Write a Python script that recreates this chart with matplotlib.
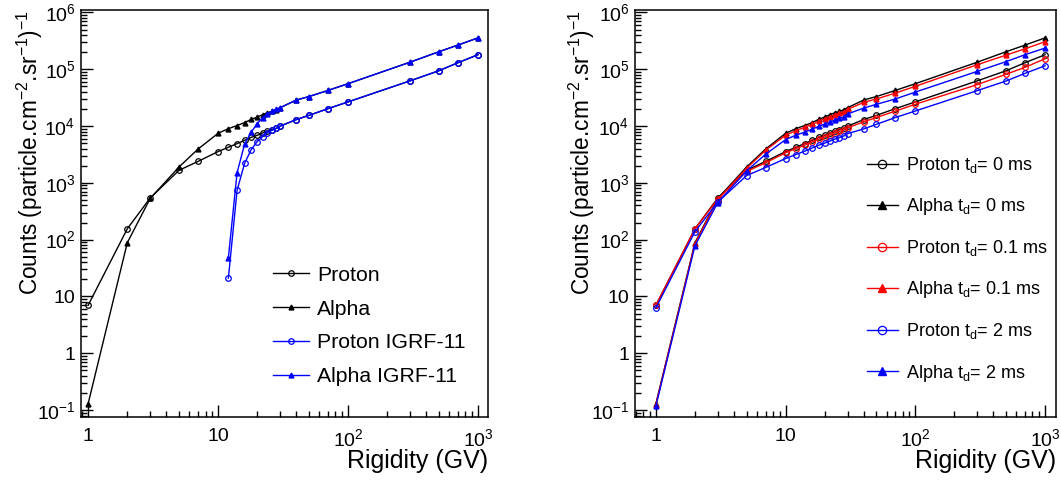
import numpy as np
import matplotlib
matplotlib.use("Agg")
import matplotlib.pyplot as plt
from matplotlib.ticker import LogLocator, FuncFormatter, NullFormatter

plt.rcParams['font.family'] = ['Liberation Sans', 'DejaVu Sans']
plt.rcParams['mathtext.fontset'] = 'custom'
plt.rcParams['mathtext.rm'] = 'Liberation Sans'
plt.rcParams['mathtext.it'] = 'Liberation Sans:italic'
plt.rcParams['mathtext.bf'] = 'Liberation Sans:bold'

# rigidity grid (GV)
rigidity = [1, 2, 3, 5, 7, 10, 12, 14, 16, 18, 20, 22, 24, 26, 28, 30,
            40, 50, 70, 100, 300, 500, 700, 1000]

# td = 0 ms (no magnetic field model)
proton_0 = [7.0, 155, 540, 1660, 2380, 3550, 4230, 4900, 5610, 6330, 6870, 7540,
            8170, 8650, 9120, 9950, 13000, 15400, 20200, 26600, 62400, 94000,
            130000, 180000]
alpha_0 = [0.13, 88, 530, 1900, 3920, 7450, 9000, 10200, 11500, 13100, 14400,
           15850, 17200, 18100, 19400, 21000, 28700, 33000, 42300, 55600, 133000,
           203000, 266000, 356000]

# IGRF-11 (starts at 12 GV)
rigidity_igrf = [12, 14, 16, 18, 20, 22, 24, 26, 28, 30, 40, 50, 70, 100, 300,
                 500, 700, 1000]
proton_igrf = [21, 740, 2210, 3850, 5320, 6510, 7650, 8410, 9120, 9950, 13000,
               15400, 20200, 26600, 62400, 94000, 130000, 180000]
alpha_igrf = [48, 1510, 4800, 7850, 10960, 14050, 16500, 18150, 19700, 21000,
              28700, 33000, 42300, 55600, 133000, 203000, 266000, 356000]

# td = 0.1 ms
proton_01 = [7.0, 155, 520, 1590, 2250, 3380, 4000, 4600, 5250, 5900, 6400, 7000,
             7600, 8050, 8500, 9250, 11900, 14100, 18300, 24200, 53500, 81500,
             108000, 153000]
alpha_01 = [0.125, 85, 508, 1800, 3740, 6900, 8300, 9500, 10700, 12100, 13300,
            14600, 15800, 16800, 17900, 19600, 26100, 29900, 38000, 50000, 120000,
            177000, 229000, 305000]

# td = 2 ms
proton_2 = [6.3, 138, 460, 1340, 1860, 2680, 3150, 3600, 4100, 4600, 5000, 5450,
            5900, 6250, 6650, 7350, 8900, 10700, 14100, 18400, 42000, 62000,
            84500, 115000]
alpha_2 = [0.118, 78, 450, 1620, 3180, 5780, 6900, 7800, 8800, 9900, 10800, 11800,
           12800, 13600, 14500, 16300, 20700, 24100, 29900, 39600, 91600, 136000,
           180000, 236000]


def log_label(v, pos):
    e = int(round(np.log10(v)))
    if e == 0:
        return '1'
    if e == 1:
        return '10'
    return '$10^{%d}$' % e


def style_axes(ax, xlim):
    ax.set_xscale('log')
    ax.set_yscale('log')
    ax.set_xlim(*xlim)
    ax.set_ylim(0.075, 1.1e6)
    for a in (ax.xaxis, ax.yaxis):
        a.set_major_locator(LogLocator(base=10, numticks=20))
        a.set_minor_locator(LogLocator(base=10, subs=np.arange(2, 10), numticks=100))
        a.set_major_formatter(FuncFormatter(log_label))
        a.set_minor_formatter(NullFormatter())
    ax.tick_params(which='both', direction='in', top=False, right=False,
                   labelsize=14, width=1.0)
    ax.tick_params(which='major', length=8.5)
    ax.tick_params(which='minor', length=4.3)
    ax.tick_params(axis='x', pad=8)
    ax.tick_params(axis='y', pad=4)
    for s in ax.spines.values():
        s.set_linewidth(1.1)
    ax.text(-0.125, 1.0, 'Counts (particle.cm$^{-2}$.sr$^{-1}$)$^{-1}$',
            transform=ax.transAxes, rotation=90, ha='center', va='top', fontsize=16.3)
    ax.text(1.0, -0.078, 'Rigidity (GV)', transform=ax.transAxes,
            ha='right', va='top', fontsize=18)


fig = plt.figure(figsize=(10.61, 4.8), dpi=100)
ax1 = fig.add_axes([0.0763, 0.131, 0.3836, 0.848])
ax2 = fig.add_axes([0.5985, 0.131, 0.3968, 0.848])

# left panel
ax1.plot(rigidity, proton_0, color='black', lw=1.0, marker='o', ms=4,
         mfc='none', mew=0.9, label='Proton')
ax1.plot(rigidity, alpha_0, color='black', lw=1.0, marker='^', ms=3.5,
         label='Alpha')
ax1.plot(rigidity_igrf, proton_igrf, color='blue', lw=1.0, marker='o', ms=4,
         mfc='none', mew=0.9, label='Proton IGRF-11')
ax1.plot(rigidity_igrf, alpha_igrf, color='blue', lw=1.0, marker='^', ms=3.5,
         label='Alpha IGRF-11')
style_axes(ax1, (0.88, 1194))
ax1.legend(loc='upper left', bbox_to_anchor=(0.471, 0.372), frameon=False,
           fontsize=15.3, handlelength=1.7, handletextpad=0.38,
           labelspacing=0.7, borderpad=0, borderaxespad=0)

# right panel
ax2.plot(rigidity, proton_0, color='black', lw=1.0, marker='o', ms=4,
         mfc='none', mew=0.9, label='Proton t$_{\\mathrm{d}}$= 0 ms')
ax2.plot(rigidity, alpha_0, color='black', lw=1.0, marker='^', ms=3.5,
         label='Alpha t$_{\\mathrm{d}}$= 0 ms')
ax2.plot(rigidity, proton_01, color='red', lw=1.0, marker='o', ms=4,
         mfc='none', mew=0.9, label='Proton t$_{\\mathrm{d}}$= 0.1 ms')
ax2.plot(rigidity, alpha_01, color='red', lw=1.0, marker='^', ms=3.5,
         label='Alpha t$_{\\mathrm{d}}$= 0.1 ms')
ax2.plot(rigidity, proton_2, color='blue', lw=1.0, marker='o', ms=4,
         mfc='none', mew=0.9, label='Proton t$_{\\mathrm{d}}$= 2 ms')
ax2.plot(rigidity, alpha_2, color='blue', lw=1.0, marker='^', ms=3.5,
         label='Alpha t$_{\\mathrm{d}}$= 2 ms')
style_axes(ax2, (0.69, 1215))
ax2.legend(loc='upper left', bbox_to_anchor=(0.55, 0.644), frameon=False,
           fontsize=13, handlelength=1.73, handletextpad=0.44,
           labelspacing=1.17, borderpad=0, borderaxespad=0, markerscale=1.5)

fig.savefig('out.png', dpi=100)
